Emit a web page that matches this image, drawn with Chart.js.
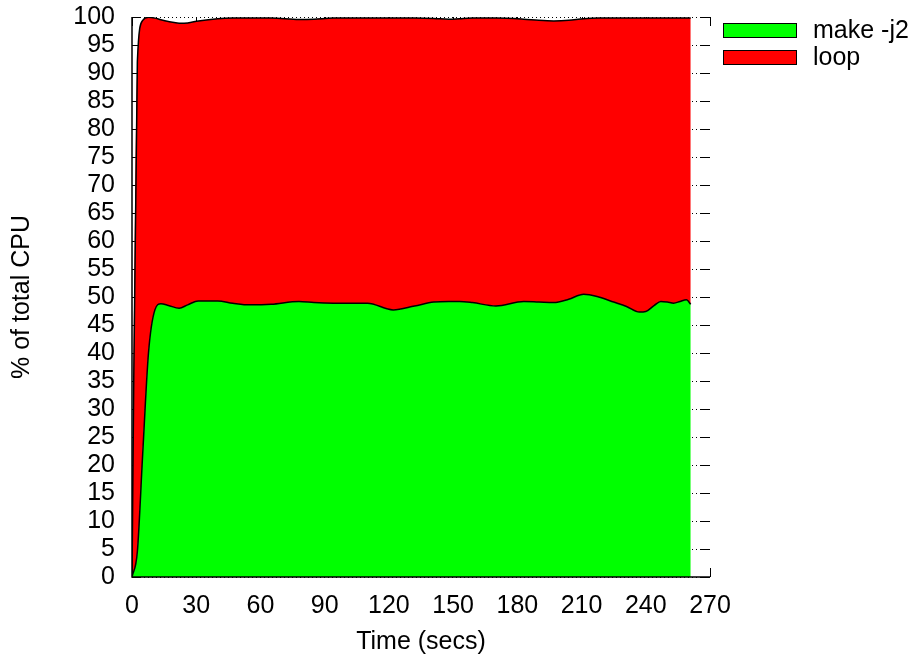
<!DOCTYPE html>
<html>
<head>
<meta charset="utf-8">
<script src="https://cdn.jsdelivr.net/npm/chart.js@4/dist/chart.umd.min.js"></script>
<style>
  html, body { margin: 0; padding: 0; background: #fff; }
  #wrap { width: 917px; height: 660px; }
</style>
</head>
<body>
<div id="wrap"><canvas id="cpuChart" width="917" height="660"></canvas></div>
<script>
// Waktu sampel (detik) dan persentase CPU per proses
const times = [0, 2.5, 5, 7.7, 10.7, 13.5, 17, 22, 26, 31, 40, 47, 55, 65, 78, 85, 94, 110, 122, 132,
               141, 148, 153, 159, 170, 183, 190, 197, 204, 211, 218, 225, 231, 237, 240, 244, 247, 250, 253, 256, 259, 261];
const makeCpu = [0, 4.5, 22, 40, 47.7, 48.8, 48.5, 48.0, 48.6, 49.3, 49.3, 48.9, 48.6, 48.7, 49.2, 49.0, 48.9, 48.9, 47.7, 48.4,
                 49.1, 49.2, 49.2, 49.0, 48.4, 49.2, 49.1, 49.0, 49.6, 50.5, 50.0, 49.1, 48.3, 47.3, 47.4, 48.5, 49.2, 49.1, 48.9, 49.2, 49.5, 48.7];
const loopCpu = [0, 87.5, 77.4, 59.95, 52.1, 50.7, 50.7, 50.9, 50.35, 50.0, 50.4, 50.9, 51.2, 51.1, 50.35, 50.6, 50.9, 50.9, 52.1, 51.4,
                 50.65, 50.4, 50.5, 50.8, 51.4, 50.4, 50.3, 50.3, 49.8, 49.2, 49.8, 50.7, 51.5, 52.5, 52.4, 51.3, 50.6, 50.7, 50.9, 50.6, 50.3, 51.1];

const seriesLabels = ['make -j2', 'loop'];
const seriesColors = ['#00ff00', '#ff0000'];

const FONT = { family: '"Liberation Sans", Arial, sans-serif', size: 25 };

function toPoints(values) {
    return values.map((v, i) => ({ x: times[i], y: v }));
}

// Grid titik-titik, tick ke dalam, border kiri/bawah, dan legend
const framePlugin = {
    id: 'frame',
    beforeDatasetsDraw(chart) {
        const { ctx, chartArea: a, scales: { x, y } } = chart;
        ctx.save();
        ctx.strokeStyle = '#000';
        ctx.lineWidth = 1;
        // garis grid horizontal
        ctx.setLineDash([1, 3]);
        y.ticks.forEach(t => {
            const py = Math.round(y.getPixelForValue(t.value)) + 0.5;
            ctx.beginPath();
            ctx.moveTo(a.left, py);
            ctx.lineTo(a.right, py);
            ctx.stroke();
        });
        ctx.setLineDash([]);
        // tick di keempat sisi
        const tl = 9;
        y.ticks.forEach(t => {
            const py = Math.round(y.getPixelForValue(t.value)) + 0.5;
            ctx.beginPath();
            ctx.moveTo(a.left, py); ctx.lineTo(a.left + tl, py);
            ctx.moveTo(a.right, py); ctx.lineTo(a.right - tl, py);
            ctx.stroke();
        });
        x.ticks.forEach(t => {
            const px = Math.round(x.getPixelForValue(t.value)) + 0.5;
            ctx.beginPath();
            ctx.moveTo(px, a.bottom); ctx.lineTo(px, a.bottom - tl);
            ctx.moveTo(px, a.top); ctx.lineTo(px, a.top + tl);
            ctx.stroke();
        });
        ctx.restore();
    },
    afterDatasetsDraw(chart) {
        const { ctx, chartArea: a } = chart;
        ctx.save();
        ctx.strokeStyle = '#000';
        ctx.lineWidth = 1.5;
        ctx.beginPath();
        ctx.moveTo(a.left, a.top);
        ctx.lineTo(a.left, a.bottom);
        ctx.lineTo(a.right, a.bottom);
        ctx.stroke();

        // legend
        ctx.lineWidth = 1;
        ctx.font = `${FONT.size}px ${FONT.family}`;
        ctx.textBaseline = 'middle';
        ctx.textAlign = 'left';
        chart.data.datasets.forEach((ds, i) => {
            const top = 23 + i * 27;
            ctx.fillStyle = ds.backgroundColor;
            ctx.fillRect(723, top, 73, 14);
            ctx.strokeRect(723.5, top + 0.5, 73, 14);
            ctx.fillStyle = '#000';
            ctx.fillText(ds.label, 813, top + 8);
        });
        ctx.restore();
    }
};

const ctx = document.getElementById('cpuChart').getContext('2d');
const cpuChart = new Chart(ctx, {
    type: 'line',
    data: {
        datasets: [{
            label: seriesLabels[0],
            data: toPoints(makeCpu),
            backgroundColor: seriesColors[0],
            borderColor: '#000',
            borderWidth: 1.5,
            fill: 'origin',
            pointRadius: 0,
            cubicInterpolationMode: 'monotone'
        }, {
            label: seriesLabels[1],
            data: toPoints(loopCpu),
            backgroundColor: seriesColors[1],
            borderColor: '#000',
            borderWidth: 1.5,
            fill: '-1',
            pointRadius: 0,
            cubicInterpolationMode: 'monotone'
        }]
    },
    options: {
        responsive: false,
        animation: false,
        layout: { padding: { top: 17, right: 207, left: 0, bottom: 0 } },
        plugins: {
            legend: { display: false },
            tooltip: { enabled: false }
        },
        scales: {
            x: {
                type: 'linear',
                min: 0,
                max: 270,
                grid: { display: false, drawTicks: false },
                border: { display: false },
                ticks: { stepSize: 30, autoSkip: false, maxRotation: 0, color: '#000', font: FONT, padding: 14 },
                title: { display: true, text: 'Time (secs)', color: '#000', font: FONT, padding: { top: 3, bottom: 3 } },
                afterFit(scale) {
                    scale.height = 83;
                    scale.paddingLeft = 0;
                    scale.paddingRight = 0;
                }
            },
            y: {
                stacked: true,
                min: 0,
                max: 100,
                grid: { display: false, drawTicks: false },
                border: { display: false },
                ticks: { stepSize: 5, autoSkip: false, color: '#000', font: FONT, padding: 17 },
                title: { display: true, text: '% of total CPU', color: '#000', font: FONT, padding: { top: 7, bottom: 7 } },
                afterFit(scale) {
                    scale.width = 132;
                    scale.paddingTop = 0;
                    scale.paddingBottom = 0;
                }
            }
        }
    },
    plugins: [framePlugin]
});
</script>
</body>
</html>
